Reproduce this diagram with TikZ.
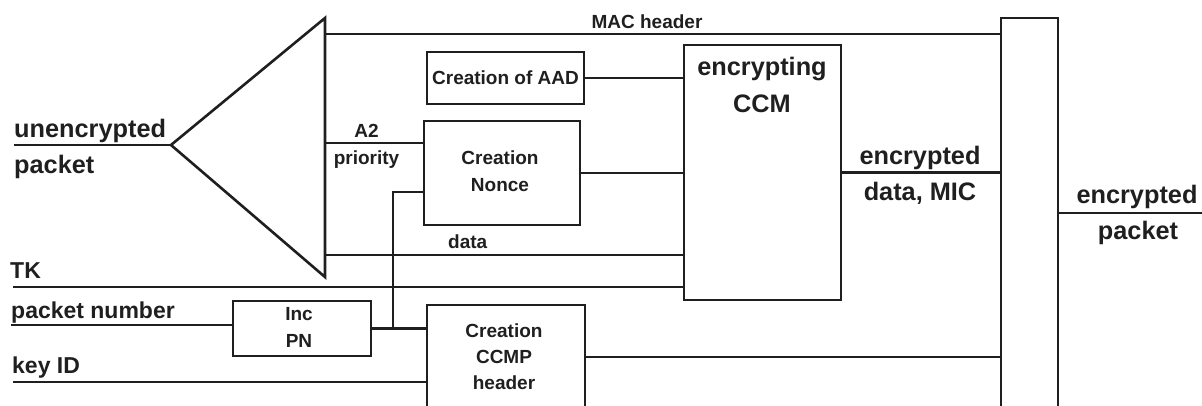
\documentclass[tikz,border=0pt]{standalone}
\usepackage{fontspec}
\setmainfont{Liberation Sans}
\begin{document}
\begin{tikzpicture}[x=1pt, y=-1pt,
  wire/.style={line width=2.6pt, draw=black!88},
  blk/.style={draw=black!88, line width=2.6pt, inner sep=0pt, fill=white},
  small/.style={font=\fontsize{19}{26}\selectfont\bfseries, text=black!88, inner sep=0pt},
  mid/.style={font=\fontsize{23}{30}\selectfont\bfseries, text=black!88, inner sep=0pt},
  big/.style={font=\fontsize{25.3}{36}\selectfont\bfseries, text=black!88, inner sep=0pt}]
\useasboundingbox (0,0) rectangle (1202,405);
\clip (0,0) rectangle (1202,405);

% splitter triangle and its taps
\coordinate (apex) at (171,145);
\coordinate (ttop) at (325,18);
\coordinate (tbot) at (325,277);
\draw[wire, line join=miter] (apex) -- (ttop) -- (tbot) -- cycle;
\coordinate (tMAC) at (325,34);
\coordinate (tA2) at (325,143);
\coordinate (tData) at (325,255);

% processing blocks
\node[blk, minimum width=157pt, minimum height=52pt] (aad) at (505.5,78) {};
\node[small] at (aad.center) {Creation of AAD};
\node[blk, minimum width=156pt, minimum height=104pt] (nonce) at (502,173) {};
\node[blk, minimum width=157pt, minimum height=255pt] (ccm) at (762.5,172.5) {};
\node[blk, minimum width=138pt, minimum height=55pt] (inc) at (302,328.5) {};
\node[blk, minimum width=158pt, minimum height=135pt] (ccmp) at (506,372.5) {};
\node[blk, minimum width=57pt, minimum height=422pt] (mux) at (1029.5,229) {};

% block texts
\node[small, anchor=base] at (500,164) {Creation};
\node[small, anchor=base] at (500,191) {Nonce};
\node[big, anchor=base] at (762,75) {encrypting};
\node[big, anchor=base] at (762,112) {CCM};
\node[small, anchor=base] at (299,320) {Inc};
\node[small, anchor=base] at (299,347) {PN};
\node[small, anchor=base] at (504,337) {Creation};
\node[small, anchor=base] at (504,363) {CCMP};
\node[small, anchor=base] at (504,389) {header};

% inputs
\coordinate (inp) at (14,145);
\coordinate (tk) at (13,287);
\coordinate (pn) at (11,325);
\coordinate (kid) at (13,382);
\coordinate (br) at (393,328.5);
\coordinate (outend) at (1202,213);

% connectors
\draw[wire] (inp) -- (apex);
\draw[wire] (tMAC) -- (tMAC -| mux.west);
\draw[wire] (tA2) -- (tA2 -| nonce.west);
\draw[wire] (tData) -- (tData -| ccm.west);
\draw[wire] (aad.east) -- (aad.east -| ccm.west);
\draw[wire] (nonce.east) -- (nonce.east -| ccm.west);
\draw[wire] (tk) -- (tk -| ccm.west);
\draw[wire] (pn) -- (pn -| inc.west);
\draw[wire] (inc.east) -- (inc.east -| ccmp.west);
\draw[wire] (br) |- ([yshift=-19pt]nonce.west);
\draw[wire] (kid) -- (kid -| ccmp.west);
\draw[wire] ([yshift=15.5pt]ccmp.east) -- ([yshift=15.5pt]ccmp.east -| mux.west);
\draw[wire] (ccm.east) -- (ccm.east -| mux.west);
\draw[wire] (outend -| mux.east) -- (outend);

% signal labels
\node[big, anchor=base west] at (14,137) {unencrypted};
\node[big, anchor=base west] at (14,173) {packet};
\node[mid, anchor=base west] at (10,278) {TK};
\node[mid, anchor=base west] at (11,318) {packet number};
\node[mid, anchor=base west] at (12,373) {key ID};
\node[small, anchor=base] at (647,28) {MAC header};
\node[small, anchor=base] at (366.5,137) {A2};
\node[small, anchor=base] at (366.5,164) {priority};
\node[small, anchor=base west] at (448,248) {data};
\node[big, anchor=base] at (920,164) {encrypted};
\node[big, anchor=base] at (920,200) {data, MIC};
\node[big, anchor=base] at (1137,203) {encrypted};
\node[big, anchor=base] at (1138,239) {packet};
\end{tikzpicture}
\end{document}
